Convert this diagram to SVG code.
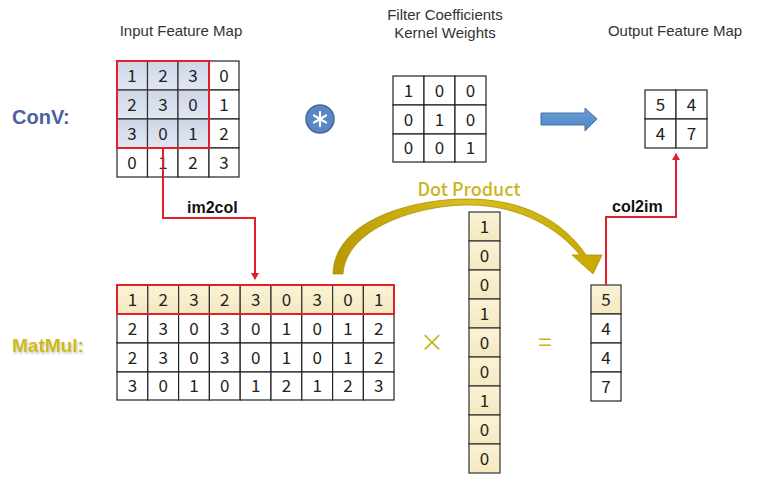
<svg xmlns="http://www.w3.org/2000/svg" width="763" height="481" viewBox="0 0 763 481">
<defs>
<style>
.cell{fill:#ffffff;stroke:#222;stroke-width:1.2}
.blue{fill:url(#gBlue);stroke:#333;stroke-width:1.2}
.cream{fill:url(#gCream);stroke:#333;stroke-width:1.2}
.num{font-family:"Noto Sans CJK SC","Noto Sans",sans-serif;font-size:17px;fill:#222;text-anchor:middle}
.title{font-family:"Liberation Sans",Arial,sans-serif;font-size:15px;fill:#333;text-anchor:middle}
.uline{stroke:#7a8694;stroke-width:2.5;filter:url(#sh)}
.red{fill:none;stroke:#e0202a;stroke-width:2}
.lbl{font-family:"Liberation Sans",Arial,sans-serif;font-weight:bold;font-size:16px;fill:#111}
.gold{font-family:"Noto Sans CJK SC","Noto Sans",sans-serif;fill:#c9b51c}
</style>
<linearGradient id="gBlue" x1="0" y1="0" x2="0" y2="1">
<stop offset="0" stop-color="#cdd6e8"/><stop offset="1" stop-color="#e2e7f2"/>
</linearGradient>
<linearGradient id="gCream" x1="0" y1="0" x2="0" y2="1">
<stop offset="0" stop-color="#fbf3d6"/><stop offset="1" stop-color="#f5e8c0"/>
</linearGradient>
<linearGradient id="gGold" x1="0" y1="0" x2="1" y2="0">
<stop offset="0" stop-color="#b89a00"/><stop offset="0.5" stop-color="#d8bf20"/><stop offset="1" stop-color="#c8a800"/>
</linearGradient>
<linearGradient id="gArrow" x1="0" y1="0" x2="0" y2="1">
<stop offset="0" stop-color="#6b9ed6"/><stop offset="1" stop-color="#4e86c4"/>
</linearGradient>
<filter id="sh" x="-5%" y="-100%" width="110%" height="400%">
<feDropShadow dx="1" dy="1.5" stdDeviation="0.8" flood-color="#000" flood-opacity="0.25"/>
</filter>
<marker id="redHead" markerWidth="8" markerHeight="8" refX="6" refY="4" orient="auto" markerUnits="userSpaceOnUse">
<path d="M0,0 L7,4 L0,8 Z" fill="#e0202a"/>
</marker>
</defs>
<rect width="763" height="481" fill="#ffffff"/>

<!-- Row labels -->
<g id="label-conv"><text x="12" y="124" font-family="Liberation Sans,Arial,sans-serif" font-weight="bold" font-size="20" fill="#4a63a0">ConV:</text></g>
<g id="label-matmul"><text x="12" y="352" font-family="Liberation Sans,Arial,sans-serif" font-weight="bold" font-size="19" fill="#cdbb1e" filter="url(#sh)">MatMul:</text></g>

<!-- Titles -->
<g id="title-input">
<text class="title" x="181" y="36">Input Feature Map</text>
<line class="uline" x1="107" y1="45" x2="256" y2="45"/>
</g>
<g id="title-filter">
<text class="title" x="445" y="20">Filter Coefficients</text>
<text class="title" x="445" y="38">Kernel Weights</text>
<line class="uline" x1="375" y1="46" x2="514" y2="46"/>
</g>
<g id="title-output">
<text class="title" x="675" y="36">Output Feature Map</text>
<line class="uline" x1="596" y1="46" x2="756" y2="46"/>
</g>

<!-- Input feature map 4x4 -->
<g id="input-map">
<rect class="blue" x="117" y="61" width="30.5" height="29"/><rect class="blue" x="147.5" y="61" width="30.5" height="29"/><rect class="blue" x="178" y="61" width="31" height="29"/><rect class="cell" x="209" y="61" width="30" height="29"/>
<rect class="blue" x="117" y="90" width="30.5" height="29"/><rect class="blue" x="147.5" y="90" width="30.5" height="29"/><rect class="blue" x="178" y="90" width="31" height="29"/><rect class="cell" x="209" y="90" width="30" height="29"/>
<rect class="blue" x="117" y="119" width="30.5" height="29"/><rect class="blue" x="147.5" y="119" width="30.5" height="29"/><rect class="blue" x="178" y="119" width="31" height="29"/><rect class="cell" x="209" y="119" width="30" height="29"/>
<rect class="cell" x="117" y="148" width="30.5" height="29"/><rect class="cell" x="147.5" y="148" width="30.5" height="29"/><rect class="cell" x="178" y="148" width="31" height="29"/><rect class="cell" x="209" y="148" width="30" height="29"/>
<rect class="red" x="117" y="61" width="92" height="87"/>
<text class="num" x="132" y="82">1</text><text class="num" x="163" y="82">2</text><text class="num" x="193" y="82">3</text><text class="num" x="224" y="82">0</text>
<text class="num" x="132" y="111">2</text><text class="num" x="163" y="111">3</text><text class="num" x="193" y="111">0</text><text class="num" x="224" y="111">1</text>
<text class="num" x="132" y="140">3</text><text class="num" x="163" y="140">0</text><text class="num" x="193" y="140">1</text><text class="num" x="224" y="140">2</text>
<text class="num" x="132" y="169">0</text><text class="num" x="163" y="169">1</text><text class="num" x="193" y="169">2</text><text class="num" x="224" y="169">3</text>
</g>

<!-- Convolution operator -->
<g id="conv-op">
<circle cx="320" cy="119" r="14" fill="#5a86c2" stroke="#3f6aa3" stroke-width="1.5"/>
<g stroke="#ffffff" stroke-width="2.2" stroke-linecap="round">
<line x1="320" y1="112" x2="320" y2="126"/>
<line x1="314" y1="115.5" x2="326" y2="122.5"/>
<line x1="314" y1="122.5" x2="326" y2="115.5"/>
</g>
</g>

<!-- Filter 3x3 -->
<g id="filter">
<rect class="cell" x="393" y="76" width="31" height="29"/><rect class="cell" x="424" y="76" width="31" height="29"/><rect class="cell" x="455" y="76" width="31" height="29"/>
<rect class="cell" x="393" y="105" width="31" height="29"/><rect class="cell" x="424" y="105" width="31" height="29"/><rect class="cell" x="455" y="105" width="31" height="29"/>
<rect class="cell" x="393" y="134" width="31" height="28"/><rect class="cell" x="424" y="134" width="31" height="28"/><rect class="cell" x="455" y="134" width="31" height="28"/>
<text class="num" x="408.5" y="97">1</text><text class="num" x="439.5" y="97">0</text><text class="num" x="470.5" y="97">0</text>
<text class="num" x="408.5" y="126">0</text><text class="num" x="439.5" y="126">1</text><text class="num" x="470.5" y="126">0</text>
<text class="num" x="408.5" y="154">0</text><text class="num" x="439.5" y="154">0</text><text class="num" x="470.5" y="154">1</text>
</g>

<!-- Output 2x2 -->
<g id="output-map">
<rect class="cell" x="645" y="90" width="31" height="29"/><rect class="cell" x="676" y="90" width="31" height="29"/>
<rect class="cell" x="645" y="119" width="31" height="29"/><rect class="cell" x="676" y="119" width="31" height="29"/>
<text class="num" x="660.5" y="111">5</text><text class="num" x="691.5" y="111">4</text>
<text class="num" x="660.5" y="140">4</text><text class="num" x="691.5" y="140">7</text>
</g>

<!-- im2col matrix 4x9 -->
<g id="im2col-matrix">
<g>
<rect class="cream" x="117" y="285" width="30.8" height="29"/><rect class="cream" x="147.8" y="285" width="30.8" height="29"/><rect class="cream" x="178.6" y="285" width="30.8" height="29"/><rect class="cream" x="209.4" y="285" width="30.8" height="29"/><rect class="cream" x="240.2" y="285" width="30.8" height="29"/><rect class="cream" x="271" y="285" width="30.8" height="29"/><rect class="cream" x="301.8" y="285" width="30.8" height="29"/><rect class="cream" x="332.6" y="285" width="30.8" height="29"/><rect class="cream" x="363.4" y="285" width="30.6" height="29"/>
</g>
<g>
<rect class="cell" x="117" y="314" width="30.8" height="29"/><rect class="cell" x="147.8" y="314" width="30.8" height="29"/><rect class="cell" x="178.6" y="314" width="30.8" height="29"/><rect class="cell" x="209.4" y="314" width="30.8" height="29"/><rect class="cell" x="240.2" y="314" width="30.8" height="29"/><rect class="cell" x="271" y="314" width="30.8" height="29"/><rect class="cell" x="301.8" y="314" width="30.8" height="29"/><rect class="cell" x="332.6" y="314" width="30.8" height="29"/><rect class="cell" x="363.4" y="314" width="30.6" height="29"/>
<rect class="cell" x="117" y="343" width="30.8" height="29"/><rect class="cell" x="147.8" y="343" width="30.8" height="29"/><rect class="cell" x="178.6" y="343" width="30.8" height="29"/><rect class="cell" x="209.4" y="343" width="30.8" height="29"/><rect class="cell" x="240.2" y="343" width="30.8" height="29"/><rect class="cell" x="271" y="343" width="30.8" height="29"/><rect class="cell" x="301.8" y="343" width="30.8" height="29"/><rect class="cell" x="332.6" y="343" width="30.8" height="29"/><rect class="cell" x="363.4" y="343" width="30.6" height="29"/>
<rect class="cell" x="117" y="372" width="30.8" height="28"/><rect class="cell" x="147.8" y="372" width="30.8" height="28"/><rect class="cell" x="178.6" y="372" width="30.8" height="28"/><rect class="cell" x="209.4" y="372" width="30.8" height="28"/><rect class="cell" x="240.2" y="372" width="30.8" height="28"/><rect class="cell" x="271" y="372" width="30.8" height="28"/><rect class="cell" x="301.8" y="372" width="30.8" height="28"/><rect class="cell" x="332.6" y="372" width="30.8" height="28"/><rect class="cell" x="363.4" y="372" width="30.6" height="28"/>
</g>
<rect class="red" x="117" y="285" width="277" height="29"/>
<g class="num">
<text x="132.4" y="306">1</text><text x="163.2" y="306">2</text><text x="194" y="306">3</text><text x="224.8" y="306">2</text><text x="255.6" y="306">3</text><text x="286.4" y="306">0</text><text x="317.2" y="306">3</text><text x="348" y="306">0</text><text x="378.7" y="306">1</text>
<text x="132.4" y="335">2</text><text x="163.2" y="335">3</text><text x="194" y="335">0</text><text x="224.8" y="335">3</text><text x="255.6" y="335">0</text><text x="286.4" y="335">1</text><text x="317.2" y="335">0</text><text x="348" y="335">1</text><text x="378.7" y="335">2</text>
<text x="132.4" y="364">2</text><text x="163.2" y="364">3</text><text x="194" y="364">0</text><text x="224.8" y="364">3</text><text x="255.6" y="364">0</text><text x="286.4" y="364">1</text><text x="317.2" y="364">0</text><text x="348" y="364">1</text><text x="378.7" y="364">2</text>
<text x="132.4" y="392">3</text><text x="163.2" y="392">0</text><text x="194" y="392">1</text><text x="224.8" y="392">0</text><text x="255.6" y="392">1</text><text x="286.4" y="392">2</text><text x="317.2" y="392">1</text><text x="348" y="392">2</text><text x="378.7" y="392">3</text>
</g>
</g>

<!-- Operators -->
<g id="times-op"><text class="gold" x="432" y="351" font-size="24" text-anchor="middle">×</text></g>
<g id="equals-op"><text class="gold" x="545" y="351" font-size="24" text-anchor="middle">=</text></g>

<!-- Kernel column vector -->
<g id="kernel-vector">
<rect class="cream" x="469" y="212" width="31" height="29"/><rect class="cream" x="469" y="241" width="31" height="29"/><rect class="cream" x="469" y="270" width="31" height="29"/>
<rect class="cream" x="469" y="299" width="31" height="29"/><rect class="cream" x="469" y="328" width="31" height="29"/><rect class="cream" x="469" y="357" width="31" height="29"/>
<rect class="cream" x="469" y="386" width="31" height="29"/><rect class="cream" x="469" y="415" width="31" height="29"/><rect class="cream" x="469" y="444" width="31" height="29"/>
<g class="num">
<text x="484.5" y="233">1</text><text x="484.5" y="262">0</text><text x="484.5" y="291">0</text>
<text x="484.5" y="320">1</text><text x="484.5" y="349">0</text><text x="484.5" y="378">0</text>
<text x="484.5" y="407">1</text><text x="484.5" y="436">0</text><text x="484.5" y="465">0</text>
</g>
</g>

<!-- Result column -->
<g id="result-vector">
<rect class="cream" x="591" y="285" width="30" height="29"/>
<rect class="cell" x="591" y="314" width="30" height="29"/>
<rect class="cell" x="591" y="343" width="30" height="29"/>
<rect class="cell" x="591" y="372" width="30" height="29"/>
<g class="num">
<text x="606" y="306">5</text><text x="606" y="335">4</text><text x="606" y="364">4</text><text x="606" y="393">7</text>
</g>
</g>

<!-- Connectors -->
<g id="connectors">
<path class="red" d="M163,148 V218 H255 V279" marker-end="url(#redHead)"/>
<text class="lbl" x="187" y="213">im2col</text>
<path class="red" d="M606,285 V217 H676 V154" marker-end="url(#redHead)"/>
<text class="lbl" x="612" y="212">col2im</text>
<path d="M541,113 H585 V108 L597,119 L585,131 V125 H541 Z" fill="url(#gArrow)" stroke="#4373ad" stroke-width="1"/>
<path d="M333,274 C334,222 408,199 468,199 C524,199 564,222 586,255 L602,255 L593,274 L572,255 L580,255 C558,228 520,205 468,205 C418,205 346,228 343,274 Z" fill="url(#gGold)" stroke="#a8920a" stroke-width="0.8"/>
<text class="gold" x="469" y="196" font-size="18" text-anchor="middle" font-weight="500">Dot Product</text>
</g>
</svg>
